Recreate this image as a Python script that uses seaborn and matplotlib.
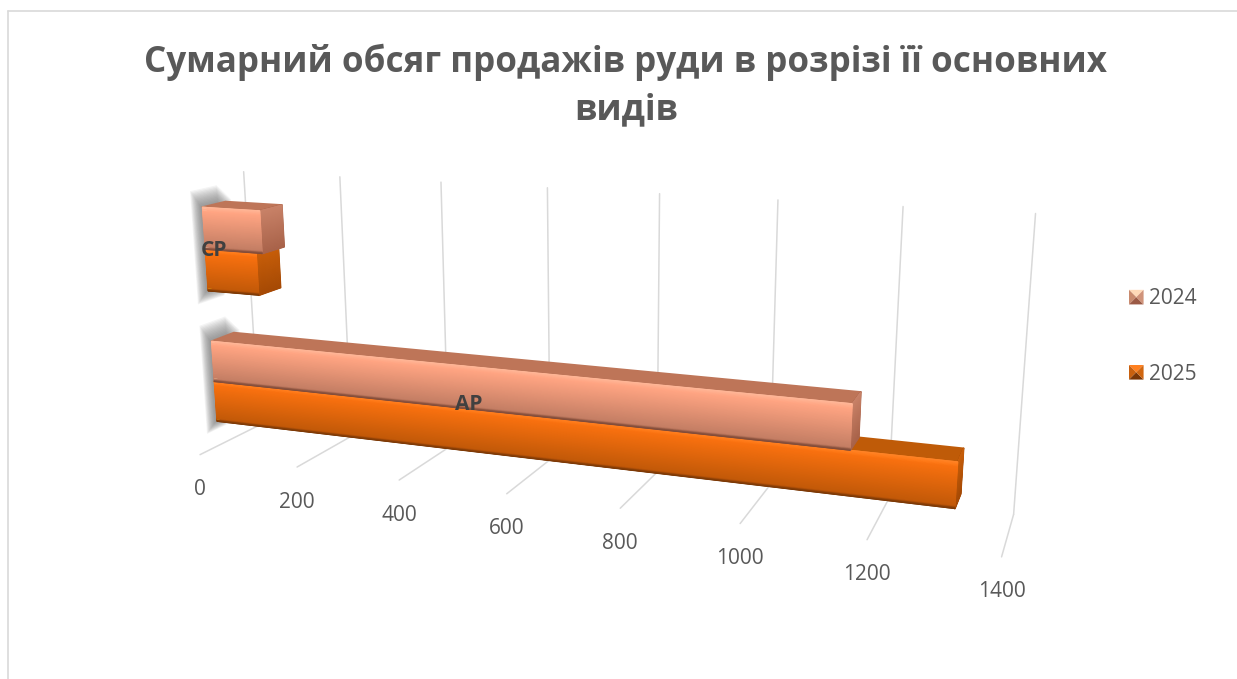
import matplotlib

matplotlib.use("Agg")
import matplotlib.pyplot as plt
import numpy as np
import pandas as pd
import seaborn as sns
from matplotlib.colors import LinearSegmentedColormap
from matplotlib.legend_handler import HandlerBase
from matplotlib.lines import Line2D
from matplotlib.patches import Polygon
from matplotlib.transforms import Transform

W, H = 1237, 679

CATEGORIES = ["СР", "АР"]
YEARS = ["2024", "2025"]
VALUES_2024 = [117, 1158]
VALUES_2025 = [105, 1322]
VALUE_TICKS = [0, 200, 400, 600, 800, 1000, 1200, 1400]
TITLE = "Сумарний обсяг продажів руди в розрізі її основних\nвидів"

# camera calibration: where the box corners of the 3d plot land in the image
FLOOR_FRONT_PX = [(200, 454), (297, 467), (399, 480), (507, 494), (620, 508), (741, 524), (867, 540), (1001, 557)]
FLOOR_BACK_PX = [(259, 426), (888, 500), (1014, 513)]
FLOOR_BACK_TICKS = [0, 1200, 1400]
WALL_TOP_PX = [(244, 170), (340, 177), (441, 184), (547, 188), (659, 193), (778, 200), (903, 207), (1036, 213)]

DEPTH_FRONT, DEPTH_BACK = 0.30, 0.67

FRONT_COLORS = {
    "2024": [(0, "#FFB899"), (0.07, "#FFAC8B"), (0.12, "#FFA482"), (0.95, "#C47E64"), (1, "#7F4A38")],
    "2025": [(0, "#FF8428"), (0.07, "#FF7A18"), (0.12, "#F8700F"), (0.95, "#C25908"), (1, "#7A3806")],
}
SIDE_COLORS = {"2024": ["#C98268", "#A9634A"], "2025": ["#C95F0A", "#A64A05"]}
TOP_COLORS = {"2024": "#BE7558", "2025": "#BF5B08"}
BASE_COLORS = {"2024": "#F29A78", "2025": "#E8680C"}
LEGEND_COLORS = {
    "2024": ["#FFD9B8", "#C98A6E", "#9B5A45", "#D0937A"],
    "2025": ["#FF8020", "#C8600F", "#7A3606", "#D0660F"],
}


def fit_camera():
    rows = []
    points = [(v, 0, 0, p) for v, p in zip(VALUE_TICKS, FLOOR_FRONT_PX)]
    points += [(v, 1, 0, p) for v, p in zip(FLOOR_BACK_TICKS, FLOOR_BACK_PX)]
    points += [(v, 1, 1, p) for v, p in zip(VALUE_TICKS, WALL_TOP_PX)]
    for v, d, h, (px, py) in points:
        X = [v / 1400, d, h, 1]
        u, w = px / 1000, py / 1000
        rows.append(X + [0, 0, 0, 0] + [-u * c for c in X])
        rows.append([0, 0, 0, 0] + X + [-w * c for c in X])
    return np.linalg.svd(np.array(rows))[2][-1].reshape(3, 4)


CAMERA = fit_camera()


class Face(Transform):
    """Maps 2d coordinates on a plane of the 3d box to display pixels."""

    input_dims = 2
    output_dims = 2

    def __init__(self, to_world):
        super().__init__()
        self.to_world = to_world

    def transform_non_affine(self, values):
        a, b = np.asarray(values, dtype=float).T
        v, d, h = self.to_world(a, b)
        one = np.ones_like(a)
        p = CAMERA @ np.stack([v / 1400 * one, d * one, h * one, one])
        return np.column_stack([p[0] / p[2] * 1000, H - p[1] / p[2] * 1000])


class PyramidHandler(HandlerBase):
    def create_artists(self, legend, orig_handle, xdescent, ydescent, width, height, fontsize, trans):
        x0, y0 = -xdescent, -ydescent
        x1, y1 = x0 + width, y0 + height
        mid = (x0 + width / 2, y0 + height / 2)
        top, left, bottom, right = LEGEND_COLORS[orig_handle.get_label()]
        tris = [
            ([(x0, y1), (x1, y1), mid], top),
            ([(x0, y1), (x0, y0), mid], left),
            ([(x0, y0), (x1, y0), mid], bottom),
            ([(x1, y0), (x1, y1), mid], right),
        ]
        return [Polygon(xy, closed=True, facecolor=c, edgecolor="none", transform=trans) for xy, c in tris]


sns.set_theme(style="white")
plt.rcParams["font.family"] = ["Open Sans", "DejaVu Sans"]

frame = pd.DataFrame(
    {
        "вид": CATEGORIES * 2,
        "рік": [YEARS[0]] * 2 + [YEARS[1]] * 2,
        "обсяг": VALUES_2024 + VALUES_2025,
    }
)

fig = plt.figure(figsize=(W / 100, H / 100), dpi=100, facecolor="white")
ax = fig.add_axes([0, 0, 1, 1])
sns.barplot(
    data=frame,
    x="обсяг",
    y="вид",
    hue="рік",
    order=CATEGORIES,
    hue_order=YEARS,
    palette=BASE_COLORS,
    saturation=1,
    width=0.62,
    orient="h",
    ax=ax,
)
ax.set_xlim(0, 1400)
ax.set_ylim(1.5, -0.5)
ax.axis("off")
y_lo, y_hi = ax.get_ylim()


def height_of(p):
    return (p - y_lo) / (y_hi - y_lo)


floor = Face(lambda a, b: (a, b, 0))
wall = Face(lambda a, b: (a, 1, height_of(b)))
front = Face(lambda a, b: (a, DEPTH_FRONT, height_of(b)))


def shade(trans, a_range, b_range, colors, zorder):
    cmap = LinearSegmentedColormap.from_list("face", colors)
    a = np.linspace(*a_range, 2)
    b = np.linspace(*b_range, 65)
    c = np.tile(np.linspace(0, 1, 65)[:, None], (1, 2))
    ax.pcolormesh(a, b, c, cmap=cmap, shading="gouraud", transform=trans, zorder=zorder, vmin=0, vmax=1)


# grid on the back wall and the floor
for v in VALUE_TICKS:
    ax.plot([v, v], [y_lo, y_hi], color="#D9D9D9", lw=1.1, transform=wall, zorder=1)
    ax.plot([v, v], [0, 1], color="#D9D9D9", lw=1.1, transform=floor, zorder=1)
    ax.annotate(
        str(v),
        xy=(v, 0),
        xycoords=floor,
        xytext=(0, -35),
        textcoords="offset pixels",
        ha="center",
        va="center",
        fontsize=15,
        color="#595959",
    )

# soft shadow left of each bar pair, stacked see-through layers fake the blur
half = 0.31
for cat_pos in range(len(CATEGORIES)):
    for i in range(14):
        grow = 0.008 * i
        layer = Face(lambda a, b, v=-1 - 1.5 * i: (v, a, height_of(b)))
        d0, d1 = DEPTH_FRONT - 0.02, DEPTH_BACK + 0.1 - 0.005 * i
        p0, p1 = cat_pos - half - 0.01 - grow, cat_pos + half + grow
        ax.fill([d0, d1, d1, d0], [p1, p1, p0, p0], color="#6E6E6E", alpha=0.075, lw=0, transform=layer, zorder=2)

# bars, seaborn rectangles become the front faces
for year, container in zip(YEARS, ax.containers):
    base = 4 if year == YEARS[0] else 3
    for rect in container:
        p0, p1 = rect.get_y(), rect.get_y() + rect.get_height()
        value = rect.get_width()

        top = Face(lambda a, b, h=height_of(p0): (a, b, h))
        side = Face(lambda a, b, v=value: (v, a, height_of(b)))
        ax.fill(
            [0, value, value, 0],
            [DEPTH_FRONT, DEPTH_FRONT, DEPTH_BACK, DEPTH_BACK],
            facecolor=TOP_COLORS[year],
            edgecolor=TOP_COLORS[year],
            lw=1.2,
            joinstyle="round",
            transform=top,
            zorder=base,
        )
        ax.fill(
            [DEPTH_FRONT, DEPTH_BACK, DEPTH_BACK, DEPTH_FRONT],
            [p0, p0, p1, p1],
            facecolor=SIDE_COLORS[year][1],
            edgecolor=SIDE_COLORS[year][1],
            lw=1.2,
            joinstyle="round",
            transform=side,
            zorder=base + 0.05,
        )
        shade(side, (DEPTH_FRONT, DEPTH_BACK), (p0, p1), SIDE_COLORS[year], base + 0.1)
        rect.set_transform(front)
        rect.set_zorder(base + 0.2)
        rect.set_linewidth(0)
        shade(front, (0, value), (p0, p1), FRONT_COLORS[year], base + 0.3)

# category labels sit on the bars
for name, v, p in zip(CATEGORIES, [19, 506], [0.0, 0.97]):
    ax.annotate(
        name,
        xy=(v, p),
        xycoords=front,
        ha="center",
        va="center",
        fontsize=15,
        fontweight="bold",
        color="#404040",
        zorder=6,
    )

handles, labels = ax.get_legend_handles_labels()
ax.legend(
    handles,
    labels,
    handler_map={type(h): PyramidHandler() for h in handles},
    loc="center left",
    bbox_to_anchor=(1129 / W, 1 - 336.5 / H),
    bbox_transform=fig.transFigure,
    frameon=False,
    fontsize=15,
    labelcolor="#595959",
    labelspacing=2.6,
    handlelength=0.7,
    handleheight=0.7,
    handletextpad=0.25,
    borderpad=0,
    borderaxespad=0,
)

fig.text(
    626 / W,
    1 - 86 / H,
    TITLE,
    ha="center",
    va="center",
    fontsize=25.2,
    fontweight="bold",
    color="#595959",
    linespacing=1.4,
)

# chart frame, only the top and left edges are in view
fig.add_artist(Line2D([8 / W, 8 / W], [0, 1 - 11 / H], color="#D9D9D9", lw=1.2, transform=fig.transFigure))
fig.add_artist(Line2D([8 / W, 1], [1 - 11 / H, 1 - 11 / H], color="#D9D9D9", lw=1.2, transform=fig.transFigure))

fig.savefig("out.png", dpi=100)
plt.close(fig)
